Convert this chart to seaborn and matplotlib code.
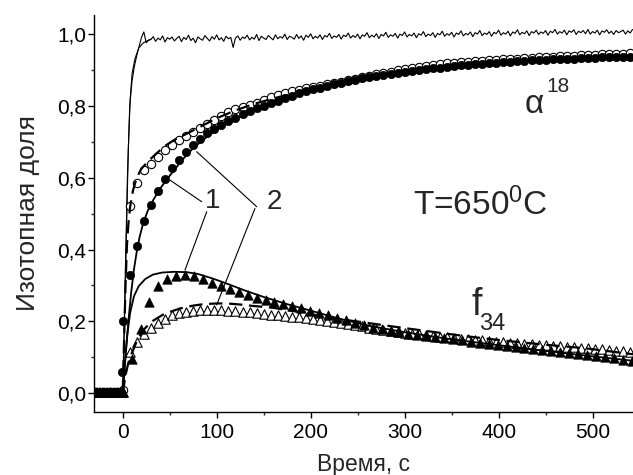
import numpy as np
import pandas as pd
import matplotlib
matplotlib.use("Agg")
import matplotlib.pyplot as plt
import seaborn as sns
from matplotlib.ticker import MultipleLocator, FuncFormatter

# ---------------- data ----------------
# alpha18, experiment 1 (filled circles), t = 0, 7.5, 15, ...
a1_pts = [0.20, 0.33, 0.41, 0.48, 0.525, 0.562, 0.597, 0.627, 0.650, 0.670,
          0.690, 0.708, 0.724, 0.735, 0.746, 0.757, 0.767, 0.776, 0.785, 0.793,
          0.800, 0.807, 0.814, 0.821, 0.828, 0.834, 0.840, 0.845, 0.850, 0.855,
          0.859, 0.864, 0.868, 0.872, 0.876, 0.879, 0.883, 0.886, 0.889, 0.892,
          0.894, 0.897, 0.899, 0.902, 0.904, 0.906, 0.908, 0.910, 0.912, 0.914,
          0.915, 0.917, 0.918, 0.920, 0.921, 0.922, 0.924, 0.925, 0.926, 0.927,
          0.928, 0.929, 0.930, 0.931, 0.931, 0.932, 0.933, 0.933, 0.934, 0.935,
          0.935, 0.936, 0.936]
# alpha18, experiment 2 (open circles), t = 0, 7.5, 15, ...
a2_pts = [0.01, 0.52, 0.585, 0.62, 0.638, 0.656, 0.676, 0.692, 0.705, 0.716,
          0.726, 0.737, 0.750, 0.761, 0.772, 0.782, 0.790, 0.796, 0.801, 0.807,
          0.815, 0.823, 0.830, 0.835, 0.840, 0.844, 0.848, 0.852, 0.856, 0.860,
          0.864, 0.867, 0.871, 0.875, 0.879, 0.883, 0.887, 0.891, 0.895, 0.898,
          0.901, 0.904, 0.907, 0.910, 0.913, 0.916, 0.918, 0.920, 0.921, 0.922,
          0.924, 0.925, 0.927, 0.928, 0.929, 0.930, 0.931, 0.932, 0.933, 0.934,
          0.935, 0.936, 0.937, 0.938, 0.939, 0.940, 0.941, 0.942, 0.943, 0.944,
          0.945, 0.945, 0.946]
# f34, experiment 1 (filled triangles), t = 0, 9.5, 19, ...
f1_pts = [0.005, 0.095, 0.18, 0.255, 0.298, 0.318, 0.327, 0.330, 0.326, 0.317,
          0.307, 0.298, 0.289, 0.281, 0.273, 0.266, 0.260, 0.254, 0.248, 0.242,
          0.236, 0.230, 0.223, 0.217, 0.210, 0.203, 0.196, 0.189, 0.183, 0.178,
          0.174, 0.170, 0.166, 0.162, 0.159, 0.156, 0.153, 0.150, 0.147, 0.144,
          0.141, 0.138, 0.135, 0.132, 0.129, 0.126, 0.123, 0.121, 0.118, 0.115,
          0.112, 0.109, 0.106, 0.103, 0.100, 0.097, 0.094, 0.091]
# f34, experiment 2 (open triangles), t = 0, 7.5, 15, ...
f2_pts = [0.003, 0.115, 0.142, 0.165, 0.183, 0.196, 0.208, 0.217, 0.223, 0.227,
          0.230, 0.232, 0.233, 0.233, 0.232, 0.230, 0.229, 0.227, 0.225, 0.223,
          0.221, 0.219, 0.217, 0.215, 0.213, 0.211, 0.209, 0.206, 0.203, 0.200,
          0.198, 0.195, 0.192, 0.189, 0.186, 0.183, 0.180, 0.177, 0.174, 0.171,
          0.169, 0.166, 0.164, 0.162, 0.160, 0.158, 0.156, 0.154, 0.152, 0.151,
          0.149, 0.147, 0.146, 0.144, 0.143, 0.141, 0.140, 0.138, 0.137, 0.135,
          0.134, 0.132, 0.131, 0.129, 0.128, 0.126, 0.125, 0.123, 0.122, 0.120,
          0.119, 0.117, 0.116]
# points before the switch (t < 0)
pre_t = [-30, -28.5, -27, -25.5, -24, -22.5, -21, -19.5, -18, -16.5, -15, -13.5,
         -12, -10.5, -9, -7.5, -6, -4.5, -3, -1.5]
pre_v = [0.005] * len(pre_t)
a1_switch_t = [-1.0]
a1_switch_v = [0.06]

# model curves (1 = solid, 2 = dashed)
ma1_t = [0, 3, 6, 9, 12, 15, 18, 22, 27, 33, 40, 47, 55, 65, 75, 90, 110, 130,
         150, 175, 200, 250, 300, 350, 400, 450, 500, 545]
ma1_v = [0.0, 0.10, 0.20, 0.28, 0.345, 0.395, 0.435, 0.475, 0.51, 0.54, 0.57,
         0.595, 0.622, 0.654, 0.682, 0.714, 0.750, 0.775, 0.797, 0.822, 0.842,
         0.871, 0.892, 0.907, 0.918, 0.926, 0.931, 0.935]
ma2_t = [0, 1, 2, 3, 4.5, 6, 8, 11, 15, 20, 27, 35, 45, 55, 65, 80, 100, 120,
         140, 160, 180, 200, 250, 300, 350, 400, 450, 500, 545]
ma2_v = [0.0, 0.10, 0.20, 0.30, 0.41, 0.47, 0.52, 0.565, 0.60, 0.625, 0.645,
         0.665, 0.688, 0.705, 0.718, 0.738, 0.765, 0.787, 0.805, 0.820, 0.833,
         0.845, 0.870, 0.890, 0.905, 0.917, 0.926, 0.933, 0.938]
mf1_t = [0, 1.5, 3, 5, 8, 12, 17, 24, 32, 42, 55, 68, 80, 95, 110, 130, 150,
         175, 200, 230, 260, 300, 350, 400, 450, 500, 545]
mf1_v = [0.0, 0.05, 0.11, 0.165, 0.225, 0.27, 0.298, 0.318, 0.330, 0.336,
         0.338, 0.337, 0.332, 0.320, 0.306, 0.286, 0.268, 0.248, 0.230, 0.208,
         0.189, 0.170, 0.150, 0.134, 0.118, 0.103, 0.090]
mf2_t = [0, 3, 6, 9.6, 15, 22, 30, 36, 45, 61, 75, 86, 100, 111, 125, 139, 160,
         190, 220, 252, 290, 330, 365, 401, 450, 490, 545]
mf2_v = [0.0, 0.05, 0.085, 0.111, 0.145, 0.176, 0.198, 0.208, 0.222, 0.236,
         0.244, 0.248, 0.250, 0.250, 0.247, 0.243, 0.238, 0.225, 0.210, 0.199,
         0.185, 0.171, 0.159, 0.148, 0.135, 0.126, 0.108]

# gas-phase response (noisy thin line), t = 0, 2.5, 5, ...
gas_v = [0.0, 0.3, 0.6, 0.8, 0.87, 0.91, 0.94, 0.965, 0.99, 1.005, 0.975, 0.982,
         0.984, 0.992, 0.979, 0.988, 0.983, 0.994, 0.977, 0.989, 0.985, 0.991,
         0.98, 0.987, 0.993, 0.978, 0.99, 0.984, 0.996, 0.981, 0.988, 0.975,
         0.991, 0.986, 0.982, 0.995, 0.987, 0.98, 0.992, 0.985, 0.997, 0.983,
         0.989, 0.979, 0.993, 0.986, 0.99, 0.962, 0.988, 0.994, 0.982, 0.991,
         0.987, 0.996, 0.983, 0.99, 0.985, 0.998, 0.981, 0.993, 0.988, 0.984,
         0.995, 0.989, 0.983, 0.997, 0.986, 0.992, 0.988, 0.999, 0.984, 0.993,
         0.99, 0.985, 0.998, 0.987, 0.994, 0.982, 0.996, 0.99, 1.0, 0.986,
         0.993, 0.988, 0.997, 0.984, 0.995, 0.991, 1.001, 0.987, 0.994, 0.99,
         0.998, 0.985, 0.996, 0.992, 1.002, 0.988, 0.995, 0.99, 0.999, 0.986,
         0.997, 0.993, 1.003, 0.989, 0.996, 0.991, 1.0, 0.987, 0.998, 0.994,
         1.004, 0.99, 0.997, 0.993, 1.001, 0.988, 0.999, 0.995, 1.005, 0.991,
         0.998, 0.994, 1.002, 0.989, 1.0, 0.996, 1.006, 0.992, 0.999, 0.995,
         1.003, 0.99, 1.001, 0.997, 1.007, 0.993, 1.0, 0.996, 1.004, 0.991,
         1.002, 0.998, 1.008, 0.994, 1.001, 0.997, 1.005, 0.992, 1.003, 0.999,
         1.009, 0.995, 1.002, 0.998, 1.006, 0.993, 1.004, 1.0, 1.01, 0.996,
         1.003, 0.999, 1.007, 0.994, 1.005, 1.001, 1.011, 0.997, 1.004, 1.0,
         1.008, 0.995, 1.006, 1.002, 1.01, 0.998, 1.005, 1.001, 1.009, 0.996,
         1.007, 1.003, 1.012, 0.999, 1.006, 1.002, 1.01, 0.997, 1.008, 1.004,
         1.011, 0.998, 1.007, 1.003, 1.009, 1.0, 1.012, 0.999, 1.006, 1.002,
         1.01, 0.997, 1.008, 1.004, 1.011, 1.001, 1.007, 0.998, 1.009, 1.003,
         1.006, 1.01, 0.999, 1.008, 1.002, 1.012]
gas_fit_t = [0, 2, 4, 6, 8, 10, 13, 17, 22, 30]
gas_fit_v = [0.0, 0.2, 0.45, 0.68, 0.82, 0.89, 0.93, 0.96, 0.975, 0.985]

y_ticks = [0.0, 0.2, 0.4, 0.6, 0.8, 1.0]
x_ticks = [0, 100, 200, 300, 400, 500]

# ---------------- style ----------------
sns.set_style("ticks")
FONT = ["Liberation Sans", "DejaVu Sans"]
plt.rcParams["font.family"] = FONT
plt.rcParams["mathtext.default"] = "regular"

fig = plt.figure(figsize=(6.33, 4.75), dpi=100)
ax = fig.add_axes([0.149, 0.1333, 0.851, 0.835])

a1_t = np.arange(len(a1_pts)) * 7.5
a2_t = np.arange(len(a2_pts)) * 7.5
f1_t = np.arange(len(f1_pts)) * 9.5
f2_t = np.arange(len(f2_pts)) * 7.5
gas_t = np.arange(len(gas_v)) * 2.5

# gas phase
sns.lineplot(x=gas_t, y=gas_v, ax=ax, color="black", lw=0.8, sort=False,
             estimator=None, zorder=2)
sns.lineplot(x=gas_fit_t, y=gas_fit_v, ax=ax, color="black", lw=0.8,
             sort=False, estimator=None, zorder=2)

# markers
ms_c = 36
ms_t = 46
sns.scatterplot(x=a2_t, y=a2_pts, ax=ax, marker="o", s=ms_c, facecolor="white",
                edgecolor="black", linewidth=0.8, zorder=3)
sns.scatterplot(x=f2_t, y=f2_pts, ax=ax, marker="^", s=ms_t, facecolor="white",
                edgecolor="black", linewidth=0.8, zorder=3)
sns.scatterplot(x=list(pre_t) + a1_switch_t + list(a1_t),
                y=pre_v + a1_switch_v + list(a1_pts), ax=ax, marker="o",
                s=ms_c, color="black", edgecolor="black", linewidth=0.5,
                zorder=3)
sns.scatterplot(x=list(pre_t) + list(f1_t), y=pre_v + list(f1_pts), ax=ax,
                marker="^", s=ms_t, color="black", edgecolor="black",
                linewidth=0.5, zorder=3)

# model lines
sns.lineplot(x=ma1_t, y=ma1_v, ax=ax, color="black", lw=1.3, sort=False,
             estimator=None, zorder=4)
sns.lineplot(x=mf1_t, y=mf1_v, ax=ax, color="black", lw=1.3, sort=False,
             estimator=None, zorder=4)
sns.lineplot(x=ma2_t, y=ma2_v, ax=ax, color="black", lw=1.6, sort=False,
             estimator=None, zorder=4)
ax.lines[-1].set_dashes((6, 3))
sns.lineplot(x=mf2_t, y=mf2_v, ax=ax, color="black", lw=1.6, sort=False,
             estimator=None, zorder=4)
ax.lines[-1].set_dashes((6, 3))

# leader lines for labels
ax.plot([84, 50.3], [0.533, 0.593], color="black", lw=0.8, zorder=5)
ax.plot([89.4, 66.3], [0.505, 0.343], color="black", lw=0.8, zorder=5)
ax.plot([142.6, 78.7], [0.519, 0.672], color="black", lw=0.8, zorder=5)
ax.plot([140.7, 100], [0.514, 0.246], color="black", lw=0.8, zorder=5)

ax.text(96, 0.536, "1", fontsize=20, ha="center", va="center")
ax.text(161.5, 0.531, "2", fontsize=20, ha="center", va="center")
ax.text(381, 0.496, "T=650$^{0}$C", fontsize=24, ha="center", va="baseline")
ax.text(428, 0.779, "α", fontsize=24, ha="left", va="baseline")
ax.text(451, 0.838, "18", fontsize=15, ha="left", va="baseline")
ax.text(371, 0.218, "f", fontsize=27, ha="left", va="baseline")
ax.text(379, 0.177, "34", fontsize=17, ha="left", va="baseline")

# axes
ax.set_xlim(-30.2, 543)
ax.set_ylim(-0.051, 1.052)
ax.set_xticks(x_ticks)
ax.set_yticks(y_ticks)
ax.xaxis.set_minor_locator(MultipleLocator(50))
ax.yaxis.set_minor_locator(MultipleLocator(0.1))
ax.yaxis.set_major_formatter(FuncFormatter(lambda v, p: f"{v:.1f}".replace(".", ",")))
ax.tick_params(which="major", direction="out", length=4, width=1, labelsize=15,
               colors="black")
ax.tick_params(axis="y", which="major", pad=2)
ax.tick_params(axis="x", which="major", pad=4)
ax.tick_params(which="minor", direction="out", length=2.5, width=1)
for s in ["top", "right"]:
    ax.spines[s].set_visible(False)
for s in ["left", "bottom"]:
    ax.spines[s].set_linewidth(1.0)
    ax.spines[s].set_color("black")

ax.set_xlabel("Время, с", fontsize=16.5, labelpad=8)
ax.set_ylabel("Изотопная доля", fontsize=19, labelpad=12)

fig.savefig("out.png", dpi=100)
